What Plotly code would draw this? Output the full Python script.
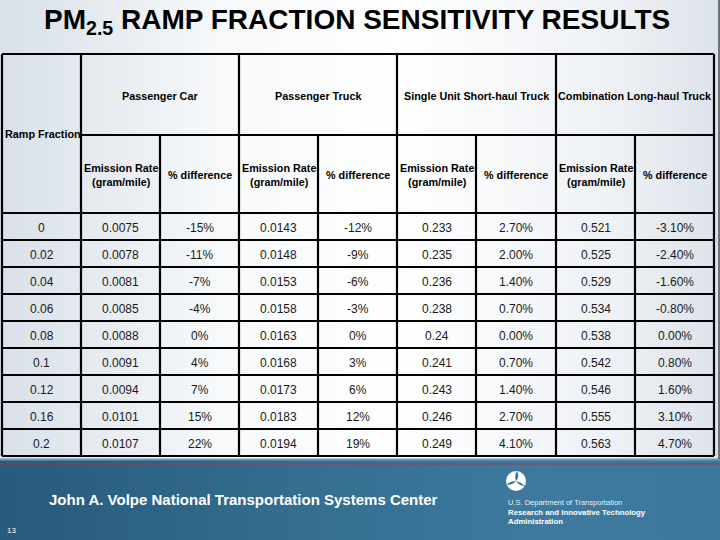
import plotly.graph_objects as go

# ---------------- data ----------------
title_text = "PM<sub>2.5</sub> RAMP FRACTION SENSITIVITY RESULTS"
vehicle_types = ["Passenger Car", "Passenger Truck",
                 "Single Unit Short-haul Truck", "Combination Long-haul Truck"]
sub_headers = ["Emission Rate<br>(gram/mile)", "% difference"]
ramp_label = "Ramp Fraction"

ramp_fraction = ["0", "0.02", "0.04", "0.06", "0.08", "0.1", "0.12", "0.16", "0.2"]
pc_rate = ["0.0075", "0.0078", "0.0081", "0.0085", "0.0088", "0.0091", "0.0094", "0.0101", "0.0107"]
pc_diff = ["-15%", "-11%", "-7%", "-4%", "0%", "4%", "7%", "15%", "22%"]
pt_rate = ["0.0143", "0.0148", "0.0153", "0.0158", "0.0163", "0.0168", "0.0173", "0.0183", "0.0194"]
pt_diff = ["-12%", "-9%", "-6%", "-3%", "0%", "3%", "6%", "12%", "19%"]
su_rate = ["0.233", "0.235", "0.236", "0.238", "0.24", "0.241", "0.243", "0.246", "0.249"]
su_diff = ["2.70%", "2.00%", "1.40%", "0.70%", "0.00%", "0.70%", "1.40%", "2.70%", "4.10%"]
cl_rate = ["0.521", "0.525", "0.529", "0.534", "0.538", "0.542", "0.546", "0.555", "0.563"]
cl_diff = ["-3.10%", "-2.40%", "-1.60%", "-0.80%", "0.00%", "0.80%", "1.60%", "3.10%", "4.70%"]

footer_center = "John A. Volpe National Transportation Systems Center"
footer_dot = ["U.S. Department of Transportation",
              "Research and Innovative Technology",
              "Administration"]
slide_number = "13"

# ---------------- layout geometry ----------------
columns = [ramp_fraction, pc_rate, pc_diff, pt_rate, pt_diff, su_rate, su_diff, cl_rate, cl_diff]
col_edges = [2, 81, 160, 239, 318, 397, 476, 556, 635, 714]
table_top, head_mid, head_bot, row_h = 54, 135, 213, 27
n_rows = len(ramp_fraction)
table_bot = head_bot + n_rows * row_h
banner_top = 459

FONT = "Liberation Sans, Arial, sans-serif"

fig = go.Figure()

# slide background gradient
fig.add_trace(go.Scatter(
    x=[0, 720, 720, 0, 0], y=[0, 0, banner_top, banner_top, 0],
    fill="toself", mode="none", hoverinfo="skip", showlegend=False,
    fillgradient=dict(type="horizontal",
                      colorscale=[[0, "#d9e0e9"], [0.3, "#f6f8fa"], [0.55, "#ffffff"],
                                  [0.85, "#eef1f5"], [1, "#dde3eb"]])))
# banner gradient
fig.add_trace(go.Scatter(
    x=[0, 720, 720, 0, 0], y=[banner_top, banner_top, 540, 540, banner_top],
    fill="toself", mode="none", hoverinfo="skip", showlegend=False,
    fillgradient=dict(type="horizontal",
                      colorscale=[[0, "#275a7b"], [0.45, "#356f92"], [0.75, "#3d7a9e"],
                                  [1, "#3a789c"]])))

shapes = []
LW = 2.2
def hline(y, x0, x1, color="black", w=LW):
    shapes.append(dict(type="line", x0=x0, x1=x1, y0=y, y1=y, xref="x", yref="y",
                       line=dict(color=color, width=w)))
def vline(x, y0, y1, color="black", w=LW):
    shapes.append(dict(type="line", x0=x, x1=x, y0=y0, y1=y1, xref="x", yref="y",
                       line=dict(color=color, width=w)))

# table grid
hline(table_top, col_edges[0], col_edges[-1])
hline(head_mid, col_edges[1], col_edges[-1])
for r in range(n_rows + 1):
    hline(head_bot + r * row_h, col_edges[0], col_edges[-1])
for i, x in enumerate(col_edges):
    if i in (0, 1, 3, 5, 7, 9):
        vline(x, table_top, table_bot)
    else:
        vline(x, head_mid, table_bot)

# banner decorations
hline(banner_top + 0.5, 0, 720, color="#6f9bb3", w=2)
hline(464, 0, 720, color="#9a3a50", w=1.2)
vline(719, 0, banner_top, color="#4a4f55", w=1.5)

# DOT logo: white disc with three blue swirls
cx, cy, rr = 516, 481, 10
blue = "#3a7597"
shapes.append(dict(type="circle", xref="x", yref="y", x0=cx - rr, x1=cx + rr,
                   y0=cy - rr, y1=cy + rr, fillcolor="white", line=dict(width=0)))
shapes.append(dict(type="path", xref="x", yref="y",
                   path=f"M {cx} {cy} Q {cx-2} {cy-5} {cx+1} {cy-10} Q {cx+4} {cy-4} {cx} {cy} Z",
                   fillcolor=blue, line=dict(width=0)))
shapes.append(dict(type="path", xref="x", yref="y",
                   path=f"M {cx} {cy} Q {cx+5} {cy+1} {cx+9} {cy+5} Q {cx+3} {cy+5} {cx} {cy} Z",
                   fillcolor=blue, line=dict(width=0)))
shapes.append(dict(type="path", xref="x", yref="y",
                   path=f"M {cx} {cy} Q {cx-3} {cy+4} {cx-9} {cy+4} Q {cx-6} {cy} {cx} {cy} Z",
                   fillcolor=blue, line=dict(width=0)))

annotations = []
def txt(x, y, s, size, color="black", bold=False, family=FONT, xanchor="center"):
    annotations.append(dict(x=x, y=y, xref="x", yref="y", text=f"<b>{s}</b>" if bold else s,
                            showarrow=False, xanchor=xanchor, yanchor="middle",
                            font=dict(size=size, color=color, family=family)))

# title
txt(357, 21, title_text, 28, bold=True)

# headers
txt((col_edges[0] + col_edges[1]) / 2 + 1, (table_top + head_bot) / 2, ramp_label, 10.8, bold=True)
for k, name in enumerate(vehicle_types):
    x0, x1 = col_edges[1 + 2 * k], col_edges[3 + 2 * k]
    txt((x0 + x1) / 2, (table_top + head_mid) / 2 + 1, name, 10.8, bold=True)
    for j, sh in enumerate(sub_headers):
        a, b = col_edges[1 + 2 * k + j], col_edges[2 + 2 * k + j]
        txt((a + b) / 2, (head_mid + head_bot) / 2 + 1, sh, 10.8, bold=True)

# data
for c, col in enumerate(columns):
    xc = (col_edges[c] + col_edges[c + 1]) / 2
    for r, v in enumerate(col):
        txt(xc, head_bot + r * row_h + row_h / 2 + 1, v, 12, color="#1a1a1a")

# footer
txt(47, 499, footer_center, 15, color="white", bold=True, xanchor="left")
txt(506, 502, footer_dot[0], 7.5, color="#e8eef3", xanchor="left")
txt(506, 512, footer_dot[1], 7.8, color="white", bold=True, xanchor="left")
txt(506, 521, footer_dot[2], 7.8, color="white", bold=True, xanchor="left")
txt(5, 530, slide_number, 8, color="white", xanchor="left")

fig.update_layout(
    width=720, height=540, margin=dict(l=0, r=0, t=0, b=0),
    paper_bgcolor="white", plot_bgcolor="white",
    xaxis=dict(range=[0, 720], visible=False, fixedrange=True),
    yaxis=dict(range=[540, 0], visible=False, fixedrange=True),
    shapes=shapes, annotations=annotations, showlegend=False,
)
fig.write_html("out.html", config={"displayModeBar": False},
               post_script="document.body.style.margin='0px';document.body.style.overflow='hidden';")
